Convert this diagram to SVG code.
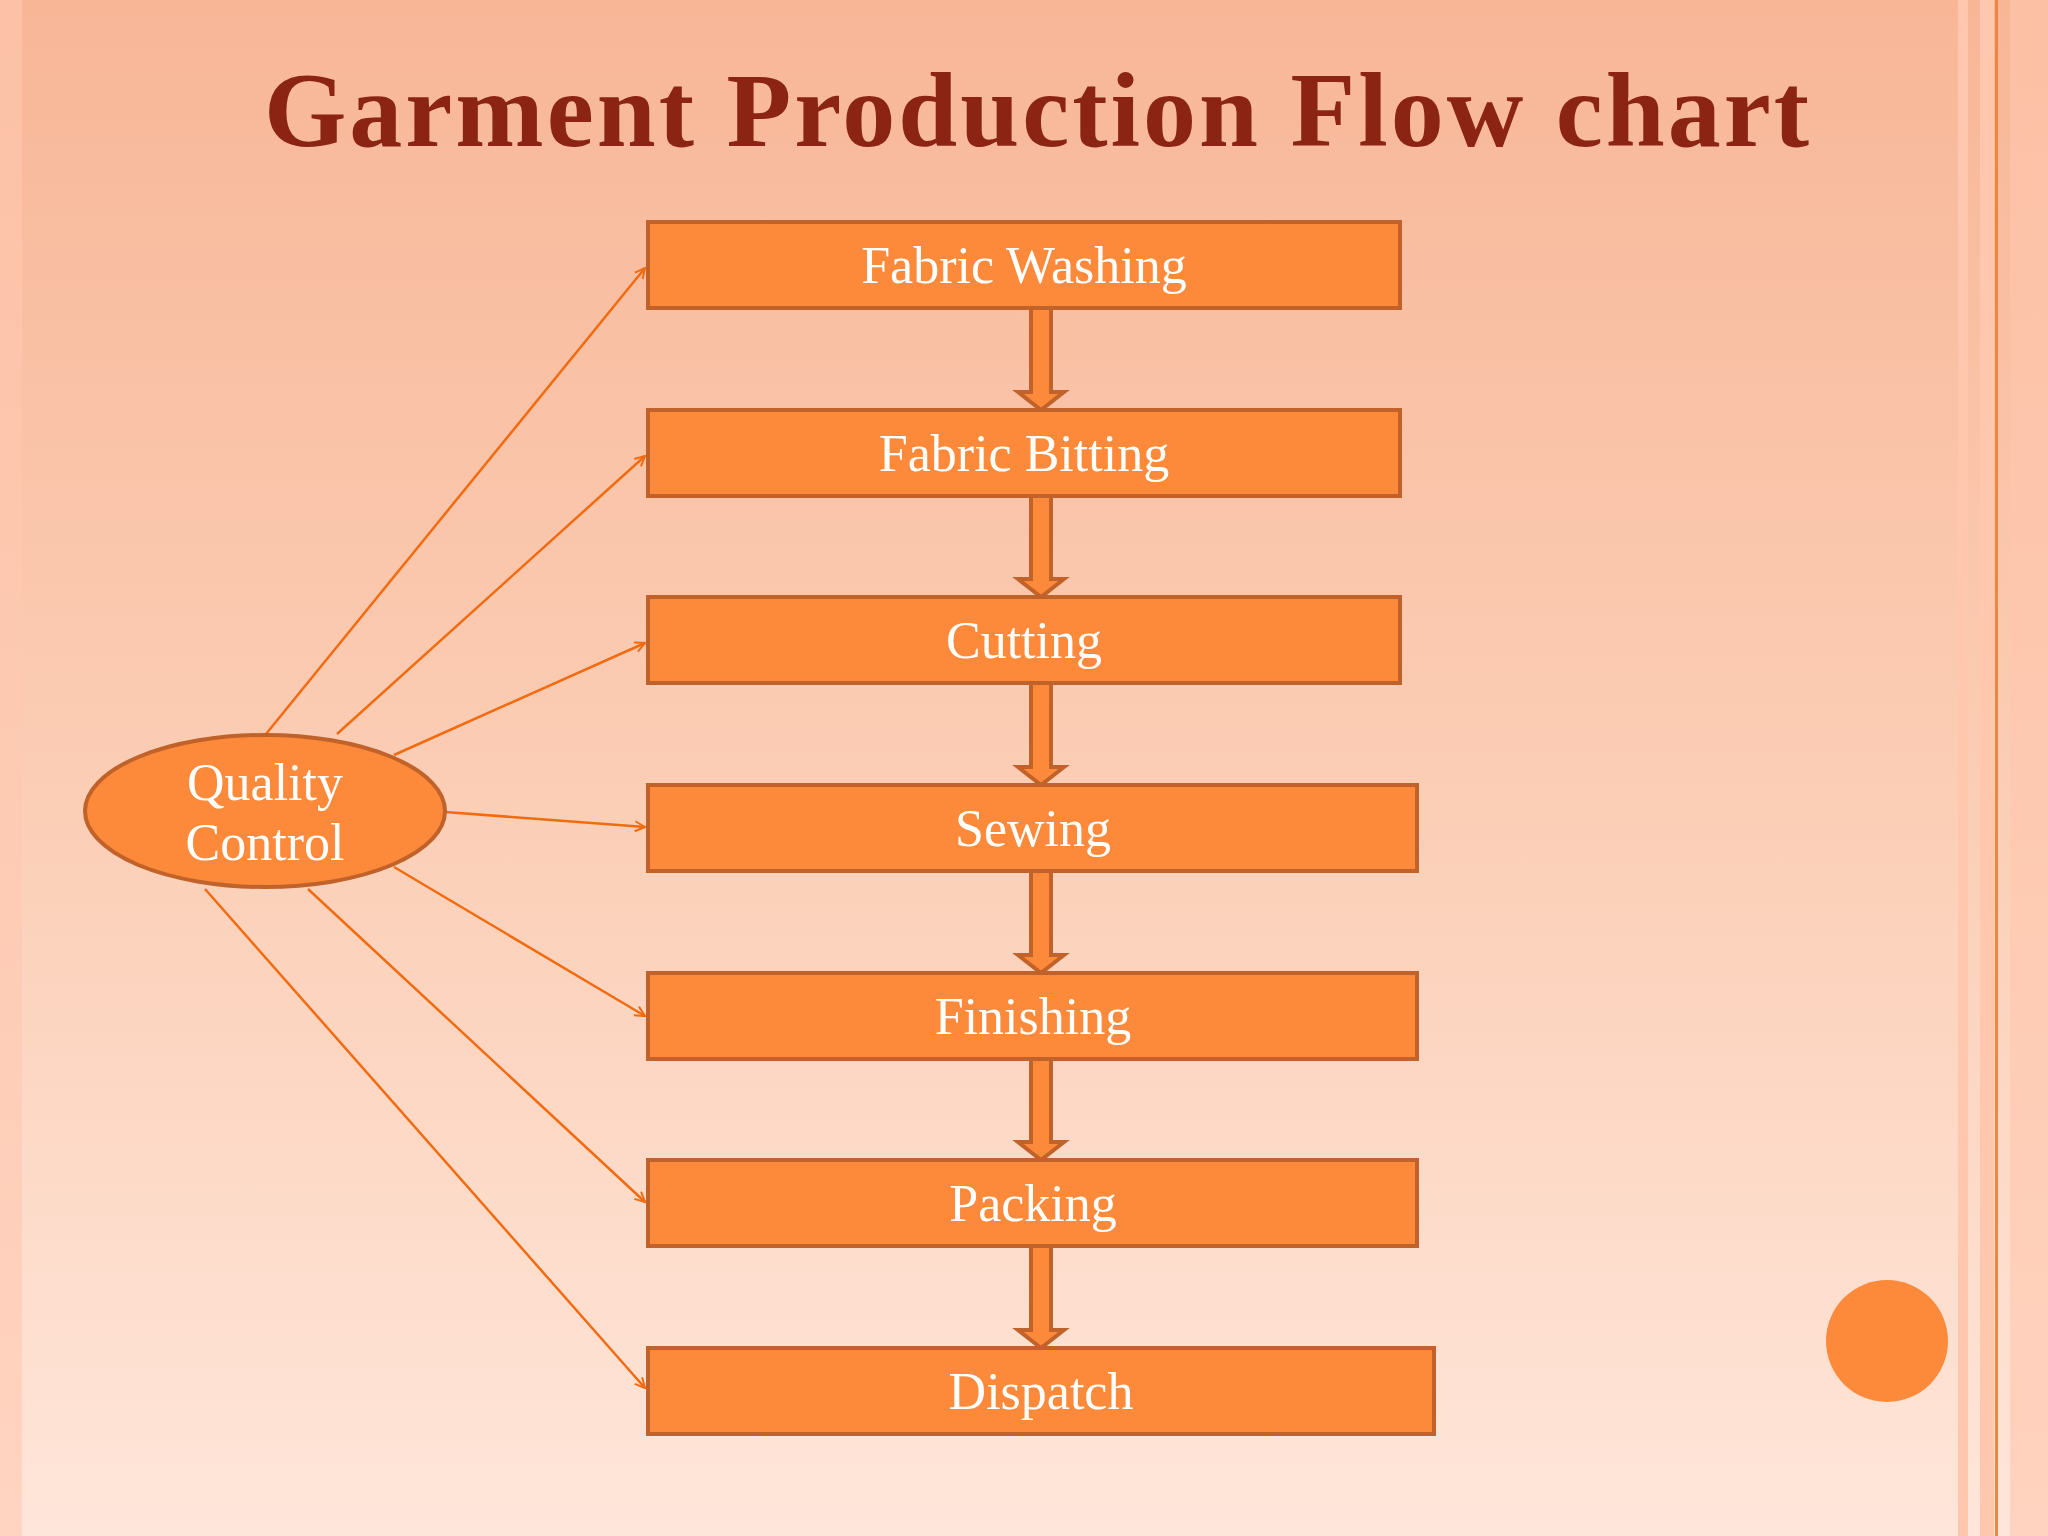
<svg xmlns="http://www.w3.org/2000/svg" width="2048" height="1536" viewBox="0 0 2048 1536">
<defs>
<linearGradient id="bg" x1="0" y1="0" x2="0" y2="1"><stop offset="0" stop-color="#F8B697"/><stop offset="0.5" stop-color="#FBCDB4"/><stop offset="1" stop-color="#FFE6DA"/></linearGradient>
<marker id="oa" viewBox="0 0 12 12" refX="11" refY="6" markerWidth="12" markerHeight="12" markerUnits="userSpaceOnUse" orient="auto"><path d="M1,1 L11,6 L1,11" fill="none" stroke="#F26B0F" stroke-width="2"/></marker>
<style>
.box{fill:#FD8A3A;stroke:#C0622A;stroke-width:4}
.lbl{font-family:"Liberation Serif",serif;font-size:52px;fill:#fff;text-anchor:middle}
.qc{stroke:#F26B0F;stroke-width:2.5;fill:none;marker-end:url(#oa)}
.down{fill:#FD8A3A;stroke:#C0622A;stroke-width:4}
</style>
</defs>
<rect width="2048" height="1536" fill="url(#bg)"/>
<rect x="0" y="0" width="22" height="1536" fill="#FFC8B0" opacity="0.6"/>
<rect x="1958" y="0" width="10" height="1536" fill="#FFC7AE"/>
<rect x="1980" y="0" width="14" height="1536" fill="#FFC7AE"/>
<rect x="1995" y="0" width="3" height="1536" fill="#F0853F"/>
<rect x="2010" y="0" width="38" height="1536" fill="#FFC7AE" opacity="0.6"/>
<text x="1038" y="146" font-family="Liberation Serif,serif" font-weight="bold" font-size="106" fill="#8B2412" text-anchor="middle" letter-spacing="3">Garment Production Flow chart</text>
<g id="connectors">
<path class="down" d="M1031,308 V392 H1018 L1041,410 L1064,392 H1051 V308 Z"/>
<path class="down" d="M1031,496 V579 H1018 L1041,597 L1064,579 H1051 V496 Z"/>
<path class="down" d="M1031,683 V767 H1018 L1041,785 L1064,767 H1051 V683 Z"/>
<path class="down" d="M1031,871 V955 H1018 L1041,973 L1064,955 H1051 V871 Z"/>
<path class="down" d="M1031,1059 V1142 H1018 L1041,1160 L1064,1142 H1051 V1059 Z"/>
<path class="down" d="M1031,1246 V1330 H1018 L1041,1348 L1064,1330 H1051 V1246 Z"/>
<line class="qc" x1="266" y1="734" x2="645" y2="268"/>
<line class="qc" x1="337" y1="734" x2="645" y2="456"/>
<line class="qc" x1="394" y1="755" x2="645" y2="643"/>
<line class="qc" x1="445" y1="812" x2="645" y2="827"/>
<line class="qc" x1="394" y1="867" x2="645" y2="1016"/>
<line class="qc" x1="308" y1="889" x2="645" y2="1202"/>
<line class="qc" x1="205" y1="889" x2="645" y2="1388"/>
</g>
<g id="n1"><rect class="box" x="648" y="222" width="752" height="86"/><text class="lbl" x="1024" y="283">Fabric Washing</text></g>
<g id="n2"><rect class="box" x="648" y="410" width="752" height="86"/><text class="lbl" x="1024" y="471">Fabric Bitting</text></g>
<g id="n3"><rect class="box" x="648" y="597" width="752" height="86"/><text class="lbl" x="1024" y="658">Cutting</text></g>
<g id="n4"><rect class="box" x="648" y="785" width="769" height="86"/><text class="lbl" x="1033" y="846">Sewing</text></g>
<g id="n5"><rect class="box" x="648" y="973" width="769" height="86"/><text class="lbl" x="1033" y="1034">Finishing</text></g>
<g id="n6"><rect class="box" x="648" y="1160" width="769" height="86"/><text class="lbl" x="1033" y="1221">Packing</text></g>
<g id="n7"><rect class="box" x="648" y="1348" width="786" height="86"/><text class="lbl" x="1041" y="1409">Dispatch</text></g>
<g id="qc"><ellipse cx="265" cy="811" rx="180" ry="76" fill="#FD8A3A" stroke="#C0622A" stroke-width="4"/><text class="lbl" x="265" y="800">Quality</text><text class="lbl" x="265" y="860">Control</text></g>
<circle cx="1887" cy="1341" r="61" fill="#FD8A3A"/>
</svg>
